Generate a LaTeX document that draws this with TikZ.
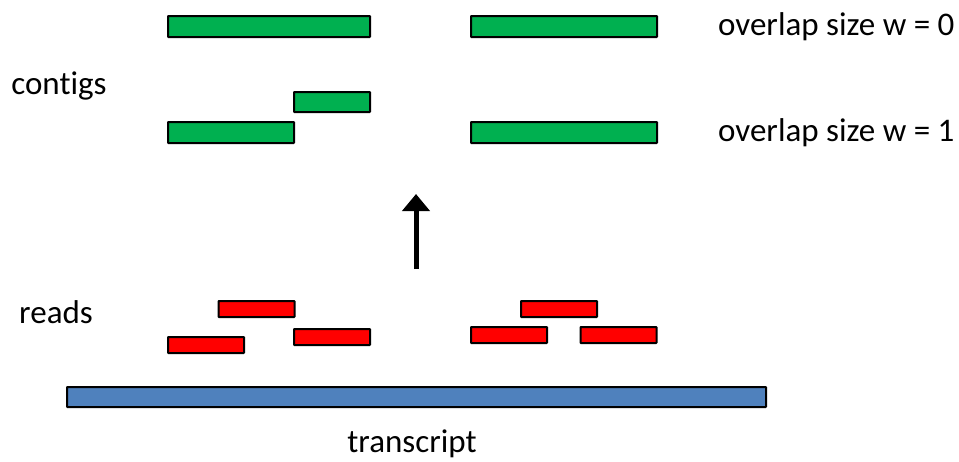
\documentclass[tikz,border=0pt]{standalone}
\usepackage{fontspec}
\setmainfont[Ligatures=NoCommon]{Carlito}
\usetikzlibrary{arrows.meta}
\definecolor{gfill}{HTML}{00B050}
\definecolor{rfill}{HTML}{FF0000}
\definecolor{bfill}{HTML}{4F81BD}
\begin{document}
\begin{tikzpicture}[x=1pt,y=-1pt,
  bar/.style={draw=black, line width=2pt, inner sep=0pt, outer sep=0pt, rounded corners=0.5pt},
  gbar/.style={bar, fill=gfill, minimum height=21pt},
  rbar/.style={bar, fill=rfill, minimum height=16pt, minimum width=76pt},
  lbl/.style={font=\fontsize{33}{37}\selectfont, inner sep=0pt}]
\useasboundingbox (0,0) rectangle (959,461);
% contigs
\node[gbar, minimum width=202pt] (c1) at (269,26.5) {};
\node[gbar, minimum width=186pt] (c2) at (564,26.5) {};
\node[gbar, minimum width=76pt, minimum height=20pt] (c3) at (332,102) {};
\node[gbar, minimum width=126pt] (c4) at (231,132.5) {};
\node[gbar, minimum width=186pt] (c5) at (564,132.5) {};
% reads
\node[rbar] (r1) at (256.5,309) {};
\node[rbar] (r2) at (206,345) {};
\node[rbar] (r3) at (332,337) {};
\node[rbar] (r4) at (559,309) {};
\node[rbar] (r5) at (509,335) {};
\node[rbar] (r6) at (618.5,335) {};
% transcript
\node[bar, fill=bfill, minimum width=699pt, minimum height=20pt] (t) at (416.5,397) {};
% arrow
\coordinate (a0) at (416,269);
\coordinate (a1) at (416,194);
\draw[line width=5pt, -{Triangle[width=27pt,length=17pt]}] (a0) -- (a1);
% labels
\node[lbl] (lc) at (59,86) {contigs};
\node[lbl] (lr) at (56,312) {reads};
\node[lbl, anchor=west] (lw0) at (718,27) {overlap size w = 0};
\node[lbl, anchor=west] (lw1) at (718,133) {overlap size w = 1};
\node[lbl] (lt) at (412,444) {transcript};
\end{tikzpicture}
\end{document}
